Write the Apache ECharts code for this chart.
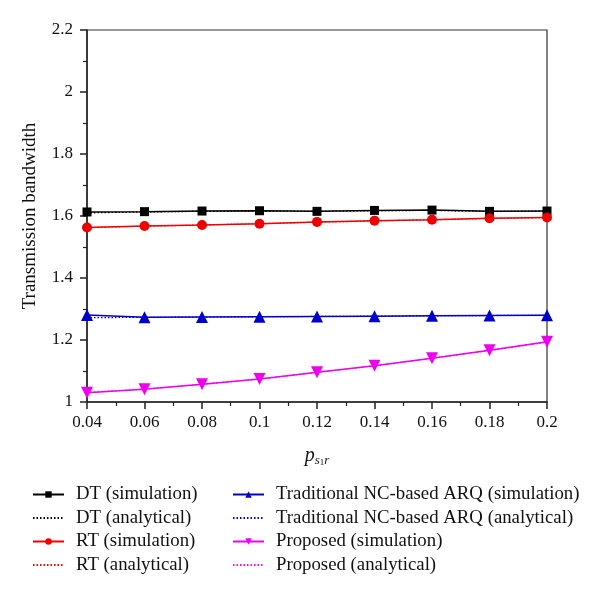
<!DOCTYPE html>
<html>
<head>
<meta charset="utf-8">
<script src="https://cdn.jsdelivr.net/npm/echarts@6/dist/echarts.min.js"></script>
<style>html,body{margin:0;padding:0;background:#fff;}#c{width:600px;height:596px;}</style>
</head>
<body>
<div id="c"></div>
<script>
var xValues = [0.04, 0.06, 0.08, 0.10, 0.12, 0.14, 0.16, 0.18, 0.20];
var dtSim = [1.613, 1.614, 1.616, 1.617, 1.615, 1.618, 1.619, 1.615, 1.616];
var dtAna = [1.610, 1.613, 1.615, 1.616, 1.615, 1.617, 1.618, 1.615, 1.615];
var rtSim = [1.563, 1.568, 1.571, 1.575, 1.581, 1.585, 1.588, 1.593, 1.595];
var rtAna = [1.563, 1.567, 1.571, 1.575, 1.580, 1.584, 1.588, 1.592, 1.595];
var ncSim = [1.281, 1.273, 1.274, 1.275, 1.276, 1.277, 1.278, 1.279, 1.280];
var ncAna = [1.272, 1.273, 1.274, 1.275, 1.276, 1.277, 1.278, 1.279, 1.280];
var prSim = [1.030, 1.041, 1.057, 1.074, 1.096, 1.117, 1.141, 1.167, 1.194];
var prAna = [1.031, 1.042, 1.057, 1.074, 1.095, 1.117, 1.141, 1.166, 1.193];
var legendNames = [
  'DT (simulation)', 'DT (analytical)', 'RT (simulation)', 'RT (analytical)',
  'Traditional NC-based ARQ (simulation)', 'Traditional NC-based ARQ (analytical)',
  'Proposed (simulation)', 'Proposed (analytical)'
];
var yTitle = 'Transmission bandwidth';

function pairs(ys) { return xValues.map(function (x, i) { return [x, ys[i]]; }); }
var FONT = '"Liberation Serif", "DejaVu Serif", serif';

function sim(name, data, color, symbol, size) {
  return {
    name: name, type: 'line', data: pairs(data), z: 5,
    symbol: symbol, symbolSize: size, showSymbol: true,
    itemStyle: { color: color },
    lineStyle: { color: color, width: 1.5, type: 'solid' },
    animation: false
  };
}
function ana(name, data, color) {
  return {
    name: name, type: 'line', data: pairs(data), z: 3,
    symbol: 'none', showSymbol: false,
    itemStyle: { color: color },
    lineStyle: { color: color, width: 1.2, type: [1.5, 2] },
    animation: false
  };
}
function legendItems(names) {
  return names.map(function (n) {
    if (n.indexOf('analytical') >= 0) {
      return { name: n, itemStyle: { opacity: 0 } };
    }
    return { name: n };
  });
}

var chart = echarts.init(document.getElementById('c'));
var fmt = function (v) { return String(parseFloat(v.toFixed(2))); };
var legendCommon = {
  orient: 'vertical', top: 485, padding: 0,
  itemWidth: 31, itemHeight: 8, itemGap: 4.5,
  textStyle: { fontFamily: FONT, fontSize: 18.8, color: '#111', padding: [0, 0, 0, 7] }
};
chart.setOption({
  backgroundColor: '#fff',
  animation: false,
  grid: { left: 87, right: 53, top: 30, bottom: 194, show: true, borderColor: '#333', borderWidth: 1.2, backgroundColor: 'transparent' },
  xAxis: {
    type: 'value', min: 0.04, max: 0.2, interval: 0.02,
    name: '{p|p}{s|s}{n|1}{s|r}', nameLocation: 'middle', nameGap: 42,
    nameTextStyle: {
      rich: {
        p: { fontFamily: FONT, fontStyle: 'italic', fontSize: 20, color: '#111' },
        s: { fontFamily: FONT, fontStyle: 'italic', fontSize: 13, color: '#111', padding: [10, 0, 0, 0] },
        n: { fontFamily: FONT, fontSize: 9, color: '#111', padding: [14, 0, 0, 0] }
      }
    },
    axisLine: { lineStyle: { color: '#222', width: 1.5 } },
    axisTick: { show: true, inside: false, length: 7, lineStyle: { color: '#222', width: 1.5 } },
    minorTick: { show: true, splitNumber: 2, length: 4, lineStyle: { color: '#222', width: 1.2 } },
    splitLine: { show: false },
    axisLabel: { formatter: fmt, fontFamily: FONT, fontSize: 17, color: '#111', margin: 12 }
  },
  yAxis: {
    type: 'value', min: 1, max: 2.2, interval: 0.2,
    name: yTitle, nameLocation: 'middle', nameGap: 47,
    nameTextStyle: { fontFamily: FONT, fontSize: 19, color: '#111' },
    axisLine: { show: true, lineStyle: { color: '#222', width: 1.5 } },
    axisTick: { show: true, inside: false, length: 7, lineStyle: { color: '#222', width: 1.5 } },
    minorTick: { show: true, splitNumber: 2, length: 4, lineStyle: { color: '#222', width: 1.2 } },
    splitLine: { show: false },
    axisLabel: { formatter: fmt, fontFamily: FONT, fontSize: 17, color: '#111', margin: 14 }
  },
  legend: [
    Object.assign({ data: legendItems(legendNames.slice(0, 4)), left: 32 }, legendCommon),
    Object.assign({ data: legendItems(legendNames.slice(4)), left: 232 }, legendCommon)
  ],
  series: [
    ana(legendNames[1], dtAna, '#000'),
    ana(legendNames[3], rtAna, '#ff0000'),
    ana(legendNames[5], ncAna, '#0000cc'),
    ana(legendNames[7], prAna, '#ff00ff'),
    sim(legendNames[0], dtSim, '#000', 'rect', 9),
    sim(legendNames[2], rtSim, '#ee0000', 'circle', 10),
    sim(legendNames[4], ncSim, '#0000cc', 'triangle', 12),
    Object.assign(sim(legendNames[6], prSim, '#ee00ee', 'triangle', 12), { symbolRotate: 180 })
  ]
});
</script>
</body>
</html>
